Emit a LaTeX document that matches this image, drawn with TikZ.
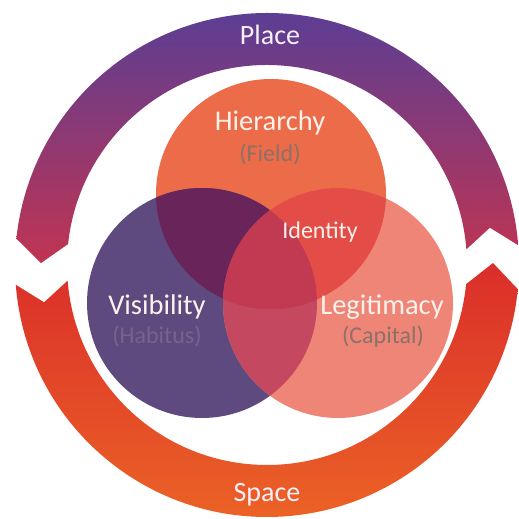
\documentclass[tikz,border=0pt]{standalone}
\usepackage{fontspec}
\setmainfont{Carlito}
\usetikzlibrary{calc}
\definecolor{placetop}{RGB}{88,62,150}
\definecolor{placebot}{RGB}{192,52,82}
\definecolor{spacetop}{RGB}{218,46,42}
\definecolor{spacebot}{RGB}{236,100,38}
\definecolor{hcol}{RGB}{236,107,72}
\definecolor{vcol}{RGB}{95,74,128}
\definecolor{lcol}{RGB}{238,133,118}
\definecolor{hvcol}{RGB}{105,37,90}
\definecolor{hlcol}{RGB}{228,76,72}
\definecolor{vlcol}{RGB}{196,72,96}
\definecolor{ccol}{RGB}{193,58,82}
\definecolor{labtext}{RGB}{252,242,236}
\definecolor{ringtext}{RGB}{246,240,250}
\definecolor{subbrown}{RGB}{140,112,106}
\definecolor{subpurple}{RGB}{118,100,140}
\tikzset{
  mainlab/.style={text=labtext, anchor=base, inner sep=0pt, font=\fontsize{28.5}{30}\selectfont},
  sublab/.style={anchor=base, inner sep=0pt, font=\fontsize{24}{26}\selectfont},
  ringlab/.style={text=ringtext, anchor=base, inner sep=0pt, font=\fontsize{28}{30}\selectfont},
}
\begin{document}
\begin{tikzpicture}[x=1pt,y=1pt]
\useasboundingbox (0,0) rectangle (519,519);
\fill[white] (0,0) rectangle (519,519);
% outer ring arrows
\begin{scope}[shift={(267,254)}]
  \shade[top color=placetop, bottom color=placebot]
    (4.5:252pt) arc[start angle=4.5, end angle=174, radius=252pt]
    -- (179.5:226pt) -- (174:200pt)
    arc[start angle=174, end angle=4.5, radius=200pt]
    -- (9.5:226pt) -- cycle;
  \shade[top color=spacetop, bottom color=spacebot]
    (184.5:252pt) arc[start angle=184.5, end angle=354.5, radius=252pt]
    -- (360.5:226pt) -- (354.5:200pt)
    arc[start angle=354.5, end angle=184.5, radius=200pt]
    -- (189.5:226pt) -- cycle;
\end{scope}
% Venn circles
\coordinate (H) at (271,325);
\coordinate (V) at (202,216);
\coordinate (L) at (338,216);
\def\rr{115pt}
\fill[hcol] (H) circle[radius=\rr];
\fill[vcol] (V) circle[radius=\rr];
\fill[lcol] (L) circle[radius=\rr];
\begin{scope}
  \clip (V) circle[radius=\rr];
  \fill[vlcol] (L) circle[radius=\rr];
\end{scope}
\begin{scope}
  \clip (H) circle[radius=\rr];
  \fill[hvcol] (V) circle[radius=\rr];
  \fill[hlcol] (L) circle[radius=\rr];
  \clip (V) circle[radius=\rr];
  \fill[ccol] (L) circle[radius=\rr];
\end{scope}
% labels
\node[mainlab] (hier) at (270,388) {Hierarchy};
\node[sublab, text=subbrown] (field) at (270,357) {(Field)};
\node[mainlab, font=\fontsize{24}{26}\selectfont] (ident) at (320,280) {Identity};
\node[mainlab] (vis) at (157,204) {Visibility};
\node[sublab, text=subpurple] (hab) at (157,175) {(Habitus)};
\node[mainlab] (legit) at (382,204) {Legitimacy};
\node[sublab, text=subbrown] (cap) at (383,175) {(Capital)};
\node[ringlab] (place) at (270,474) {Place};
\node[ringlab] (space) at (267,17) {Space};
\end{tikzpicture}
\end{document}
